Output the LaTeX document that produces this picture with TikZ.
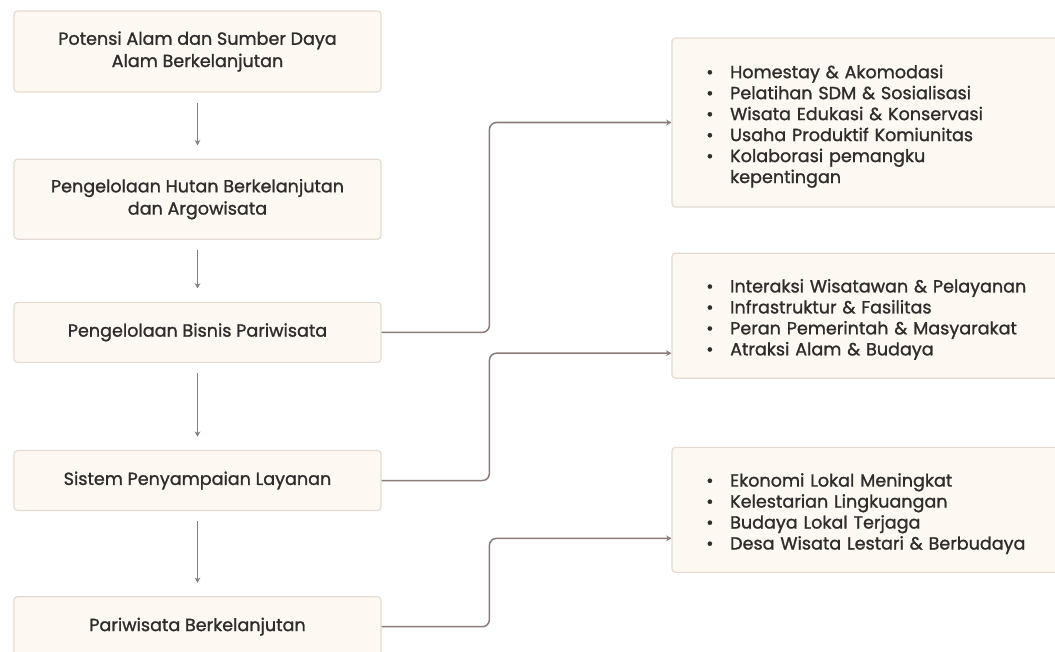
\documentclass[tikz,border=0pt]{standalone}
\usepackage{fontspec}
\setmainfont{Poppins}[FakeBold=1.2]
\usepackage{enumitem}
\usetikzlibrary{positioning}
\usetikzlibrary{calc,arrows.meta}
\definecolor{boxfill}{HTML}{FDF9F2}
\definecolor{boxline}{HTML}{E4DAD3}
\definecolor{linkcol}{HTML}{8C7C79}
\definecolor{txtcol}{HTML}{2E2C2C}
\setlist[itemize]{nosep,leftmargin=0.92cm,labelsep=0.5cm}

\tikzset{
    stage/.style = {draw=boxline, fill=boxfill, line width=1pt, rounded corners=3pt,
                    minimum width=11.01cm, align=center, text=txtcol,
                    font=\fontsize{15}{19}\selectfont},
    detail/.style = {draw=boxline, fill=boxfill, line width=1pt, rounded corners=3pt,
                     minimum width=11.85cm, text width=10.2cm, inner xsep=0.82cm,
                     text=txtcol, font=\fontsize{15}{17.9}\selectfont},
    flow/.style = {draw=linkcol, line width=1.3pt, -{Stealth[length=4.5pt,width=5pt]}},
    link/.style = {flow, rounded corners=6pt},
}

\begin{document}
\begin{tikzpicture}

    \useasboundingbox (0,0) rectangle (31.65,-19.53);

    %Left column
    \node[stage, minimum height=2.43cm] (Potensi) at (5.925,-1.545)
        {Potensi Alam dan Sumber Daya\\Alam Berkelanjutan};

    \node[stage, minimum height=2.40cm, below = 1.98cm of Potensi] (Hutan)
        {Pengelolaan Hutan Berkelanjutan\\dan Argowisata};

    \node[stage, minimum height=1.80cm, below = 1.86cm of Hutan] (Bisnis)
        {Pengelolaan Bisnis Pariwisata};

    \node[stage, minimum height=1.80cm, below = 2.61cm of Bisnis] (Layanan)
        {Sistem Penyampaian Layanan};

    \node[stage, minimum height=1.80cm, below = 2.55cm of Layanan] (Lestari)
        {Pariwisata Berkelanjutan};

    %Right column
    \node[detail, minimum height=5.07cm] (Usaha) at (26.085,-3.675) {
        \begin{itemize}
            \item Homestay \& Akomodasi
            \item Pelatihan SDM \& Sosialisasi
            \item Wisata Edukasi \& Konservasi
            \item Usaha Produktif Komiunitas
            \item Kolaborasi pemangku\\kepentingan
        \end{itemize}};

    \node[detail, minimum height=3.75cm, below = 1.35cm of Usaha] (Interaksi) {
        \begin{itemize}
            \item Interaksi Wisatawan \& Pelayanan
            \item Infrastruktur \& Fasilitas
            \item Peran Pemerintah \& Masyarakat
            \item Atraksi Alam \& Budaya
        \end{itemize}};

    \node[detail, minimum height=3.75cm, below = 2.04cm of Interaksi] (Dampak) {
        \begin{itemize}
            \item Ekonomi Lokal Meningkat
            \item Kelestarian Lingkuangan
            \item Budaya Lokal Terjaga
            \item Desa Wisata Lestari \& Berbudaya
        \end{itemize}};

    %Entry points
    \coordinate (UsahaIn) at (Usaha.west);
    \coordinate (InteraksiIn) at ($(Interaksi.west)+(0,-1.125)$);
    \coordinate (DampakIn) at ($(Dampak.west)+(0,-0.855)$);

    %Arrows down
    \foreach \a/\b in {Potensi/Hutan, Hutan/Bisnis, Bisnis/Layanan, Layanan/Lestari}
        \draw[flow, shorten <=0.3cm, shorten >=0.4cm] (\a.south) -- (\b.north);

    %Arrows right
    \draw[link] (Bisnis.east) -| ($(UsahaIn)+(-5.46,0)$) -- (UsahaIn);
    \draw[link] (Layanan.east) -| ($(InteraksiIn)+(-5.46,0)$) -- (InteraksiIn);
    \draw[link] (Lestari.east) -| ($(DampakIn)+(-5.46,0)$) -- (DampakIn);

\end{tikzpicture}
\end{document}
